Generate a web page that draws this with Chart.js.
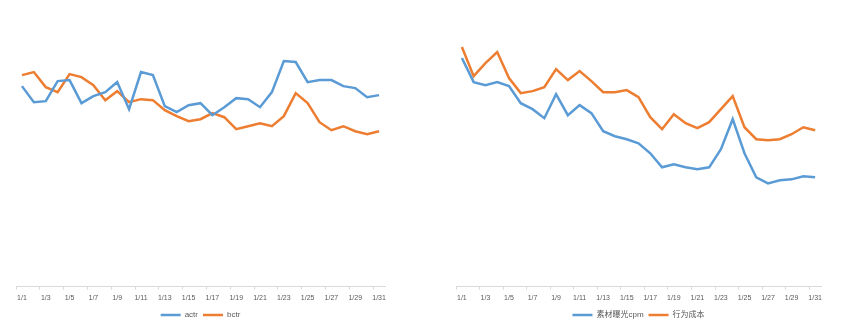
<!DOCTYPE html>
<html>
<head>
<meta charset="utf-8">
<script src="https://cdn.jsdelivr.net/npm/chart.js@4/dist/chart.umd.min.js"></script>
<style>
  body { margin: 0; background: #fff; overflow: hidden; }
  .box { position: absolute; top: 0; height: 329px; }
  #left { left: 0; width: 401px; }
  #right { left: 440px; width: 397px; }
</style>
</head>
<body>
<div class="box" id="left"><canvas id="ctrChart"></canvas></div>
<div class="box" id="right"><canvas id="costChart"></canvas></div>
<script>
// DATA
const days = [];
for (let d = 1; d <= 31; d++) days.push("1/" + d);

const actr = [2.00, 1.84, 1.85, 2.05, 2.06, 1.83, 1.90, 1.94, 2.04, 1.77, 2.14, 2.11, 1.80, 1.74, 1.81, 1.83,
  1.71, 1.79, 1.88, 1.87, 1.79, 1.94, 2.25, 2.24, 2.04, 2.06, 2.06, 2.00, 1.98, 1.89, 1.91];
const bctr = [2.11, 2.14, 1.99, 1.94, 2.12, 2.09, 2.01, 1.86, 1.95, 1.84, 1.87, 1.86, 1.76, 1.70, 1.65, 1.67,
  1.73, 1.69, 1.57, 1.60, 1.63, 1.60, 1.70, 1.93, 1.83, 1.64, 1.56, 1.60, 1.55, 1.52, 1.55];

const cpm = [22.8, 20.4, 20.1, 20.4, 20.0, 18.3, 17.7, 16.8, 19.2, 17.1, 18.1, 17.3, 15.5, 15.0, 14.7, 14.3,
  13.3, 11.9, 12.2, 11.9, 11.7, 11.9, 13.7, 16.7, 13.3, 10.9, 10.3, 10.6, 10.7, 11.0, 10.9];
const actionCost = [23.9, 21.0, 22.3, 23.4, 20.8, 19.3, 19.5, 19.9, 21.7, 20.6, 21.5, 20.5, 19.4, 19.4, 19.6, 18.9,
  16.9, 15.7, 17.2, 16.3, 15.8, 16.4, 17.7, 19.0, 15.9, 14.7, 14.6, 14.7, 15.2, 15.9, 15.6];

const BLUE = "#5B9BD5";
const ORANGE = "#ED7D31";
const FONT = "'Liberation Sans', 'Noto Sans CJK SC', sans-serif";

function makeLine(el, names, series, yMax) {
  return new Chart(el, {
    type: "line",
    data: {
      labels: days,
      datasets: [
        { label: names[0], data: series[0], borderColor: BLUE, backgroundColor: BLUE, borderWidth: 2.5 },
        { label: names[1], data: series[1], borderColor: ORANGE, backgroundColor: ORANGE, borderWidth: 2.5 }
      ]
    },
    options: {
      responsive: true,
      maintainAspectRatio: false,
      animation: false,
      elements: {
        line: { tension: 0 },
        point: { radius: 0 }
      },
      layout: { padding: { top: 36, left: 16, right: 16, bottom: 0 } },
      plugins: {
        legend: {
          position: "bottom",
          labels: {
            usePointStyle: true,
            pointStyle: "line",
            pointStyleWidth: 20,
            color: "#595959",
            font: { family: FONT, size: 8 },
            padding: 5
          }
        },
        tooltip: { enabled: false }
      },
      scales: {
        x: {
          offset: true,
          border: { color: "#D9D9D9", width: 1 },
          grid: {
            drawOnChartArea: false,
            drawTicks: true,
            tickLength: 3,
            offset: true,
            color: (ctx) => (ctx.index % 2 === 0 ? "#D9D9D9" : "rgba(0,0,0,0)")
          },
          ticks: {
            autoSkip: false,
            maxRotation: 0,
            padding: 4,
            color: "#595959",
            font: { family: FONT, size: 7 },
            callback: function (val, i) { return i % 2 === 0 ? this.getLabelForValue(val) : ""; }
          }
        },
        y: { display: false, min: 0, max: yMax }
      }
    }
  });
}

makeLine(document.querySelector("#ctrChart"), ["actr", "bctr"], [actr, bctr], 2.5);
makeLine(document.querySelector("#costChart"), ["素材曝光cpm", "行为成本"], [cpm, actionCost], 25);
</script>
</body>
</html>
